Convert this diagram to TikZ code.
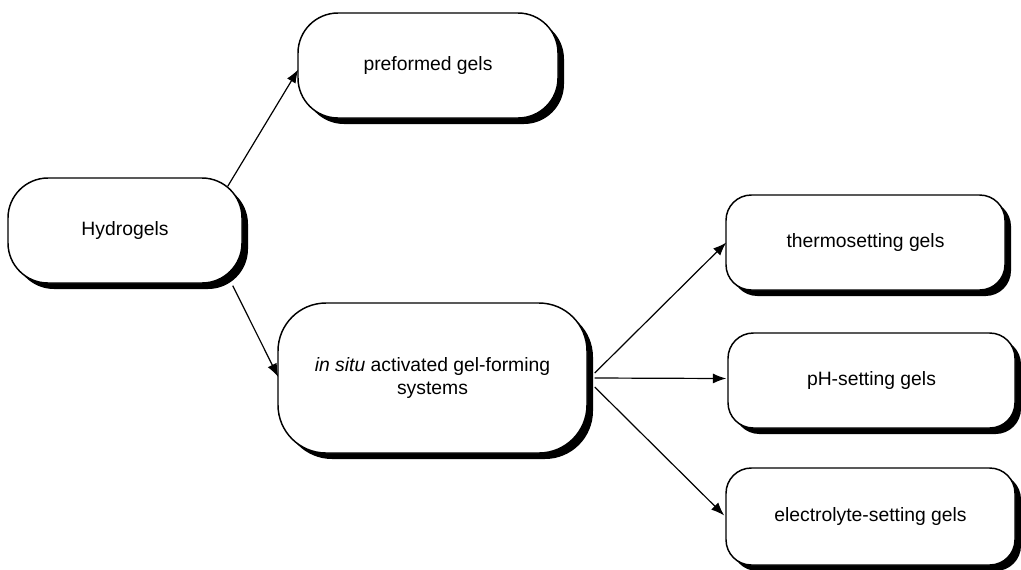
\documentclass[tikz,border=0pt]{standalone}
\usepackage{fontspec}
\setmainfont{Liberation Sans}
\usetikzlibrary{arrows.meta,shadows,calc}
\begin{document}
\begin{tikzpicture}[x=0.75pt,y=-0.75pt,
  gelbox/.style={draw=black, line width=1.1pt, fill=white,
    font=\fontsize{14.5}{17}\selectfont, align=center, inner sep=0pt,
    drop shadow={shadow xshift=4.5pt, shadow yshift=-4.5pt, fill=black, opacity=1}},
  link/.style={-{Latex[length=10pt,width=7.5pt]}, line width=0.9pt}]
\useasboundingbox (0,0) rectangle (1021,569);

% boxes
\node[gelbox, rounded corners=30pt, minimum width=175.5pt, minimum height=78.75pt]
  (hyd) at (125,230.5) {Hydrogels};
\node[gelbox, rounded corners=30pt, minimum width=195pt, minimum height=78.75pt]
  (pre) at (428,65.5) {preformed gels};
\node[gelbox, rounded corners=36pt, minimum width=231.75pt, minimum height=112.5pt]
  (ins) at (432.5,378) {\textit{in situ} activated gel-forming\\systems};
\node[gelbox, rounded corners=19pt, minimum width=209.25pt, minimum height=71.25pt]
  (thm) at (865.5,242.5) {thermosetting gels};
\node[gelbox, rounded corners=19pt, minimum width=215.25pt, minimum height=71.25pt]
  (phs) at (871.5,380.5) {pH-setting gels};
\node[gelbox, rounded corners=19pt, minimum width=216.75pt, minimum height=72.75pt]
  (ele) at (870.5,516.5) {electrolyte-setting gels};

% connectors
\draw[link] ($(hyd.north east)+(-15,9)$) -- ($(pre.west)+(1,4)$);
\draw[link] ($(hyd.south east)+(-10,2)$) -- ($(ins.west)+(1,-1)$);
\draw[link] ($(ins.east)+(7,-5)$) -- ($(thm.west)+(1,0)$);
\draw[link] ($(ins.east)+(7,0)$) -- ($(phs.west)+(-1,-2)$);
\draw[link] ($(ins.east)+(7,9)$) -- ($(ele.west)+(-1,-1)$);
\end{tikzpicture}
\end{document}
